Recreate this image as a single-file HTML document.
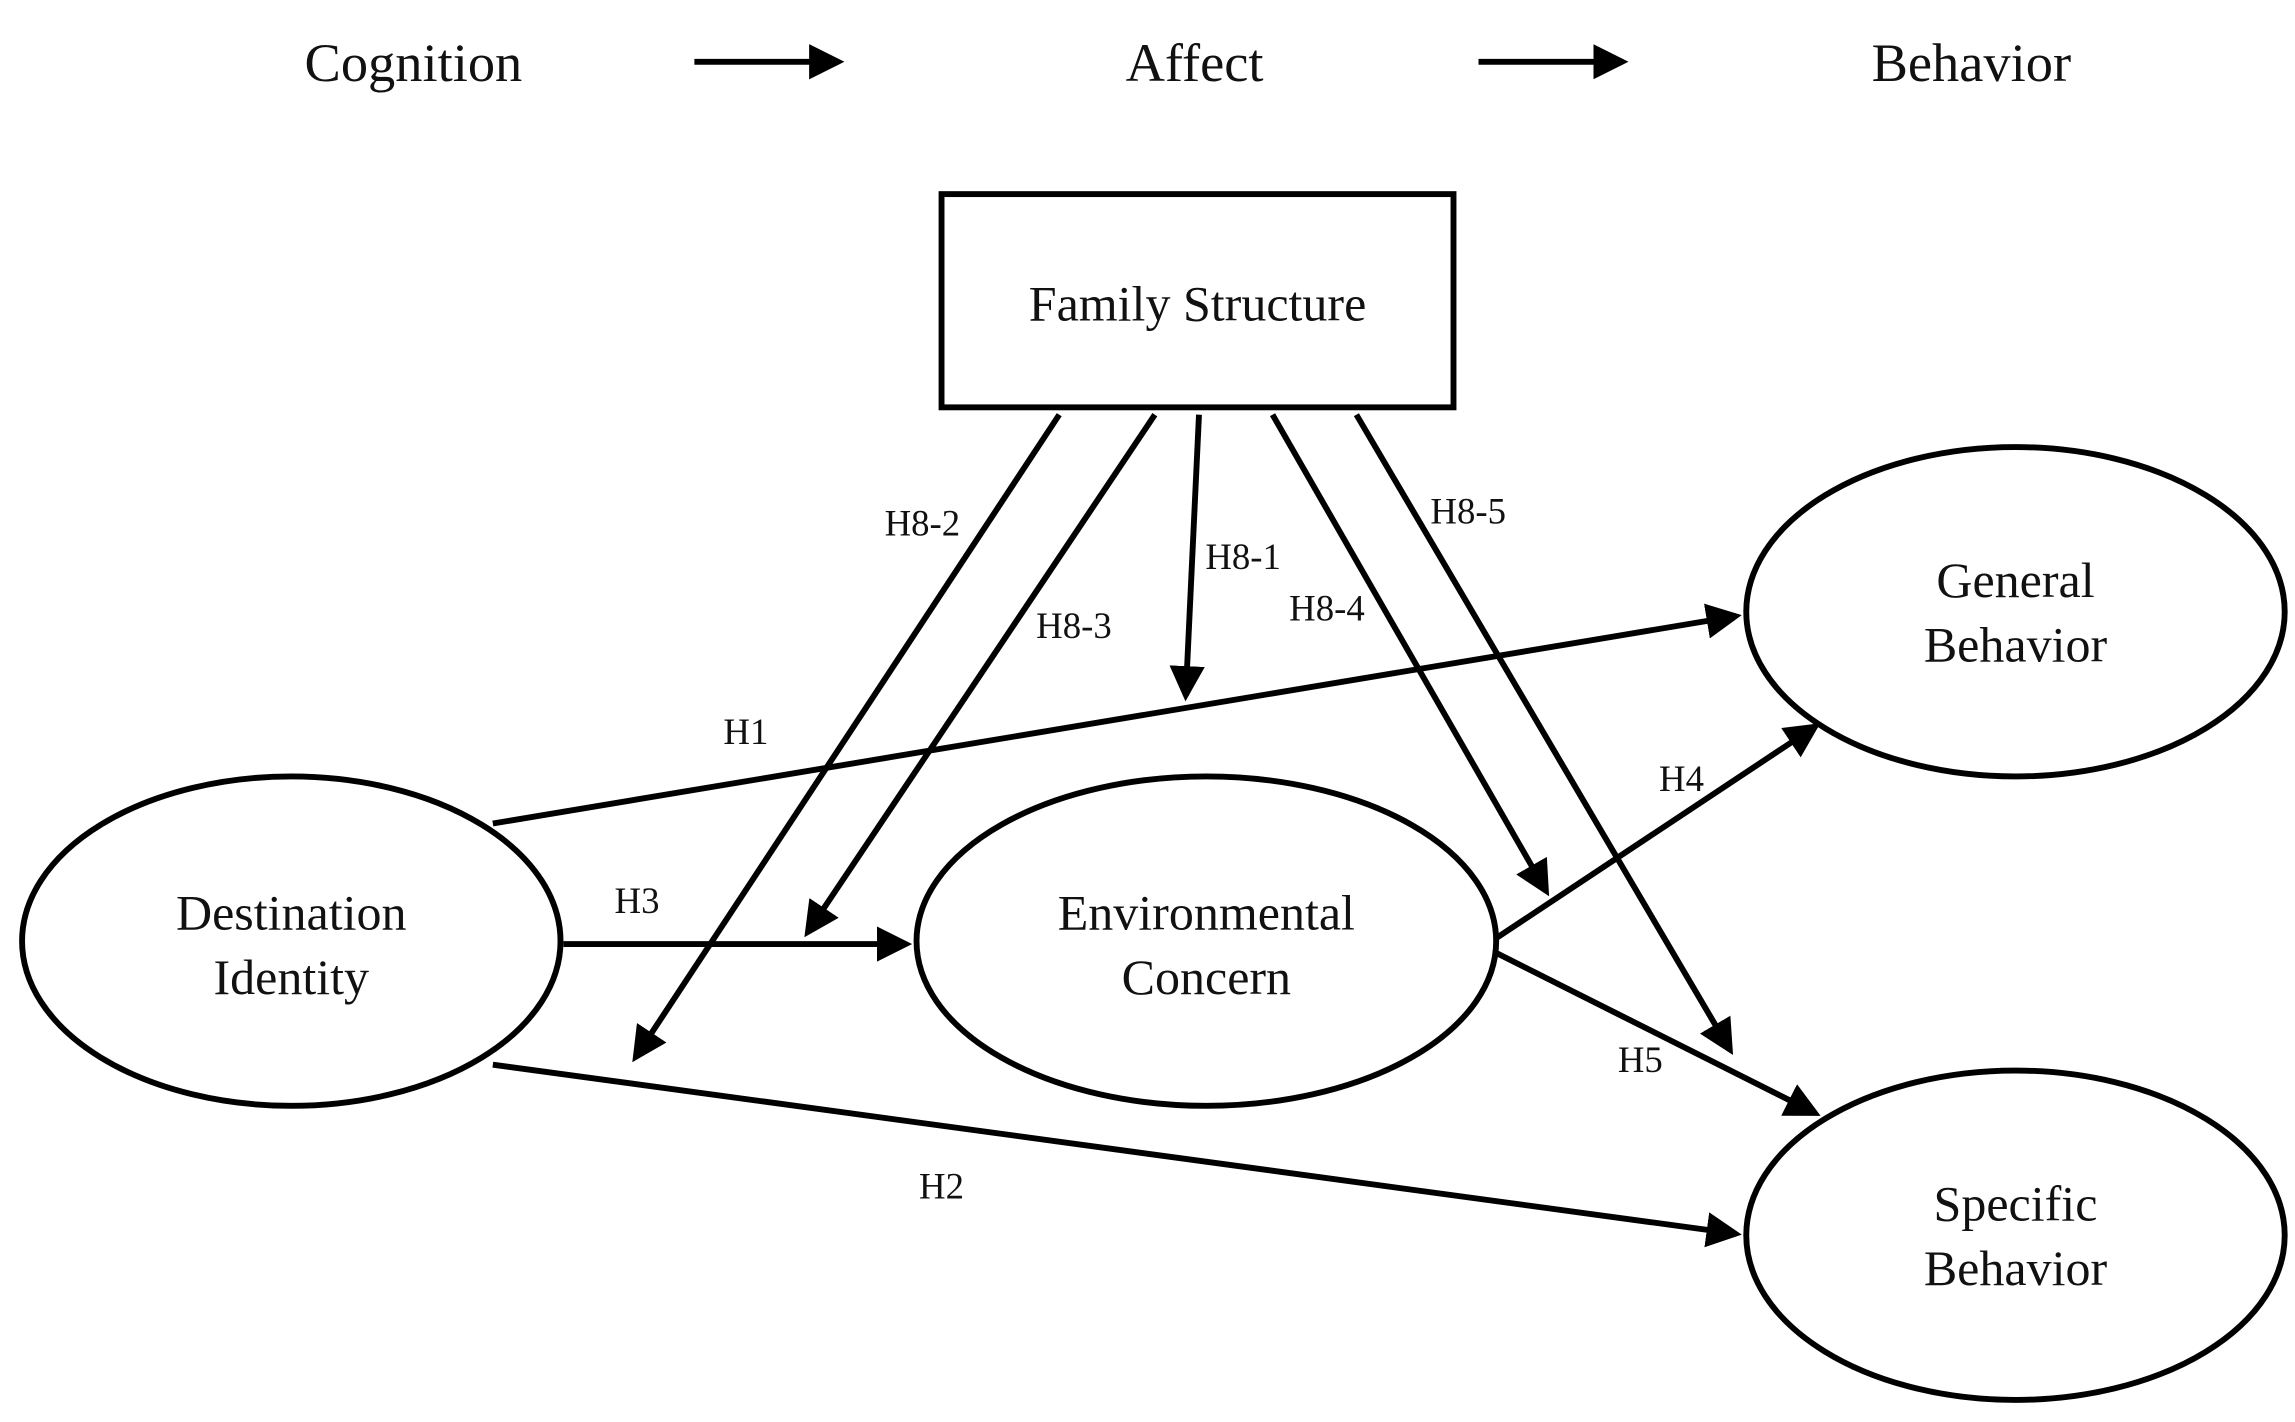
<!DOCTYPE html>
<html><head><style>html,body{margin:0;padding:0;background:#fff}svg{display:block}</style></head>
<body>
<svg width="2295" height="1422" viewBox="0 0 1560 967" preserveAspectRatio="none" xmlns="http://www.w3.org/2000/svg">
<defs><marker id="a" markerWidth="6" markerHeight="6" refX="5" refY="3" orient="auto" markerUnits="strokeWidth"><path d="M0,0 L6,3 L0,6 z" fill="#000"/></marker></defs>
<g font-family="Liberation Serif, serif" fill="#111" text-anchor="middle">
<text x="281" y="55" font-size="37">Cognition</text>
<text x="812" y="55" font-size="37">Affect</text>
<text x="1340" y="55" font-size="37">Behavior</text>
<text x="814" y="218" font-size="34">Family Structure</text>
<text x="198" y="632" font-size="34">Destination</text>
<text x="198" y="676" font-size="34">Identity</text>
<text x="820" y="632" font-size="34">Environmental</text>
<text x="820" y="676" font-size="34">Concern</text>
<text x="1370" y="406" font-size="34">General</text>
<text x="1370" y="450" font-size="34">Behavior</text>
<text x="1370" y="830" font-size="34">Specific</text>
<text x="1370" y="874" font-size="34">Behavior</text>
<g font-size="25">
<text x="627" y="364">H8-2</text><text x="730" y="434">H8-3</text><text x="845" y="387">H8-1</text>
<text x="902" y="422">H8-4</text><text x="998" y="356">H8-5</text><text x="507" y="506">H1</text>
<text x="433" y="621">H3</text><text x="1143" y="538">H4</text><text x="1115" y="729">H5</text><text x="640" y="815">H2</text>
</g></g>
<g stroke="#000" stroke-width="4" fill="none">
<rect x="640" y="132" width="348" height="145"/>
<ellipse cx="198" cy="640" rx="183" ry="112"/>
<ellipse cx="820" cy="640" rx="197" ry="112"/>
<ellipse cx="1370" cy="416" rx="183" ry="112"/>
<ellipse cx="1370" cy="840" rx="183" ry="112"/>
</g>
<g stroke="#000" stroke-width="4" marker-end="url(#a)">
<line x1="472" y1="42" x2="570" y2="42"/>
<line x1="1005" y1="42" x2="1103" y2="42"/>
<line x1="720" y1="282" x2="432" y2="719"/>
<line x1="785" y1="282" x2="549" y2="634"/>
<line x1="815" y1="282" x2="806" y2="473"/>
<line x1="865" y1="282" x2="1051" y2="606"/>
<line x1="922" y1="282" x2="1176" y2="714"/>
<line x1="335" y1="560" x2="1180" y2="419"/>
<line x1="383" y1="642" x2="616" y2="642"/>
<line x1="335" y1="724" x2="1180" y2="839"/>
<line x1="1017" y1="638" x2="1234" y2="494"/>
<line x1="1017" y1="648" x2="1234" y2="757"/>
</g>
</svg>
</body></html>
